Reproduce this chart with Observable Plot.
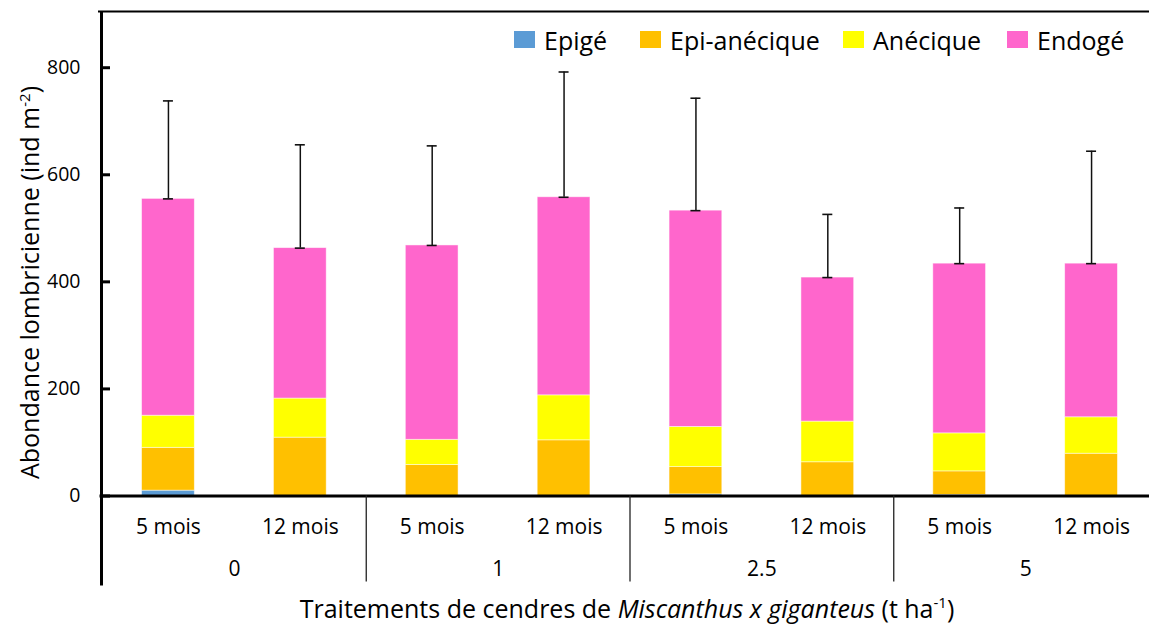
<!DOCTYPE html>
<html><head><meta charset="utf-8">
<script src="https://cdn.jsdelivr.net/npm/d3@7"></script>
<script src="https://cdn.jsdelivr.net/npm/@observablehq/plot@0.6"></script>
<style>
html,body{margin:0;padding:0;background:#fff;overflow:hidden;}
#chart{position:relative;width:1149px;height:626px;}
</style></head><body><div id="chart"></div>
<script>
// ---- data ----
const groups = ["0", "1", "2.5", "5"];
const months = ["5 mois", "12 mois"];
const species = ["Epigé", "Epi-anécique", "Anécique", "Endogé"];
const epige       = [10,   0,   0,   0,   3,   0,   2,   0];
const epiAnecique = [80, 109,  58, 104,  51,  63,  44,  79];
const anecique    = [60,  73,  47,  84,  75,  76,  71,  68];
const endoge      = [405, 281, 363, 370, 404, 269, 317, 287];
const errors      = [183, 193, 186, 234, 210, 118, 104, 210];
const yTicks = [0, 200, 400, 600, 800];
const yMax = 905;

// ---- build tables ----
const colors = ["#5B9BD5", "#FFC000", "#FFFF00", "#FF66CC"];
const seriesValues = [epige, epiAnecique, anecique, endoge];
const bars = [];
groups.forEach((g, gi) => months.forEach((m, mi) => bars.push({i: gi * months.length + mi, group: g, month: m})));
const segments = [];
bars.forEach(b => {
  let acc = 0;
  species.forEach((s, si) => {
    const v = seriesValues[si][b.i];
    if (v > 0) segments.push({...b, species: s, y1: acc, y2: acc + v});
    acc += v;
  });
  b.total = acc;
  b.top = acc + errors[b.i];
});
const nBars = bars.length;
const barTicks = bars.map(b => b.i + 0.5);
const groupTicks = groups.map((g, gi) => gi * months.length + months.length / 2);
const dividerTicks = groups.slice(1).map((g, gi) => (gi + 1) * months.length);

const plot = Plot.plot({
  width: 1149, height: 626,
  marginLeft: 102, marginRight: -8, marginTop: 11, marginBottom: 130.5,
  x: {domain: [0, nBars]},
  y: {domain: [0, yMax]},
  color: {domain: species, range: colors},
  style: {fontFamily: "'Open Sans', sans-serif", fontSize: "21px", color: "#000", background: "#fff"},
  marks: [
    Plot.rect(segments, {x1: d => d.i + 0.3, x2: d => d.i + 0.7, y1: "y1", y2: "y2", fill: "species", stroke: "#fff", strokeOpacity: 0.6, strokeWidth: 0.8}),
    // error bars
    Plot.ruleX(bars, {x: d => d.i + 0.5, y1: "total", y2: "top", stroke: "#111", strokeWidth: 1.5}),
    Plot.ruleY(bars, {x1: d => d.i + 0.5, x2: d => d.i + 0.5 + 1e-9, y: "top", insetLeft: -5, insetRight: -5, stroke: "#111", strokeWidth: 1.6}),
    Plot.ruleY(bars, {x1: d => d.i + 0.5, x2: d => d.i + 0.5 + 1e-9, y: "total", insetLeft: -5, insetRight: -5, stroke: "#111", strokeWidth: 1.6}),
    // frame lines
    Plot.ruleY([yMax], {stroke: "#000", strokeWidth: 2.2, insetLeft: -4}),
    Plot.ruleX([0], {stroke: "#000", strokeWidth: 3, dx: -1}),
    Plot.ruleY([0], {stroke: "#000", strokeWidth: 3, insetLeft: -2.5}),
    // y axis
    Plot.axisY({ticks: yTicks, tickSize: -9, strokeWidth: 3, tickFormat: () => "", label: null, dx: -1}),
    Plot.axisY({ticks: yTicks, tickSize: 0, tickPadding: 22, fontSize: 19.5, label: null}),
    // x axis: left extension and dividers
    Plot.axisX({ticks: [0], tickSize: 90, strokeWidth: 3, dx: -1, tickFormat: () => "", label: null}),
    Plot.axisX({ticks: dividerTicks, tickSize: 86, strokeWidth: 1.3, stroke: "#222", tickFormat: () => "", label: null}),
    // x labels
    Plot.axisX({ticks: barTicks, tickSize: 0, tickPadding: 22.6, fontSize: 21, tickFormat: d => months[Math.floor(d) % months.length], label: null}),
    Plot.axisX({ticks: groupTicks, tickSize: 0, tickPadding: 65.3, fontSize: 21, tickFormat: d => groups[Math.floor(d / months.length)], label: null})
  ]
});
document.getElementById("chart").appendChild(plot);

const svg = d3.select(plot);
// y title
const yt = svg.append("text")
  .attr("transform", "translate(38.5,282.5) rotate(-90)")
  .attr("text-anchor", "middle").attr("fill", "#000")
  .style("font-size", "25px").style("white-space", "pre");
yt.append("tspan").text("Abondance lombricienne (ind m");
yt.append("tspan").attr("dy", -9).style("font-size", "15px").text("-2");
yt.append("tspan").attr("dy", 9).text(")");

// x title
const xt = svg.append("text")
  .attr("x", 627).attr("y", 618)
  .attr("text-anchor", "middle").attr("fill", "#000")
  .style("font-size", "25px").style("white-space", "pre");
xt.append("tspan").text("Traitements de cendres de ");
xt.append("tspan").style("font-style", "italic").text("Miscanthus x giganteus");
xt.append("tspan").text(" (t ha");
xt.append("tspan").attr("dy", -10).style("font-size", "15px").text("-1");
xt.append("tspan").attr("dy", 10).text(")");

// legend
const legendX = [514, 640, 843, 1007];
const lg = svg.append("g").attr("text-anchor", "start");
species.forEach((s, si) => {
  lg.append("rect").attr("x", legendX[si]).attr("y", 31).attr("width", 21).attr("height", 17).attr("fill", colors[si]);
  lg.append("text").attr("x", legendX[si] + 30).attr("y", 50).attr("text-anchor", "start").attr("fill", "#000").style("font-size", "25px").text(s);
});
</script></body></html>
